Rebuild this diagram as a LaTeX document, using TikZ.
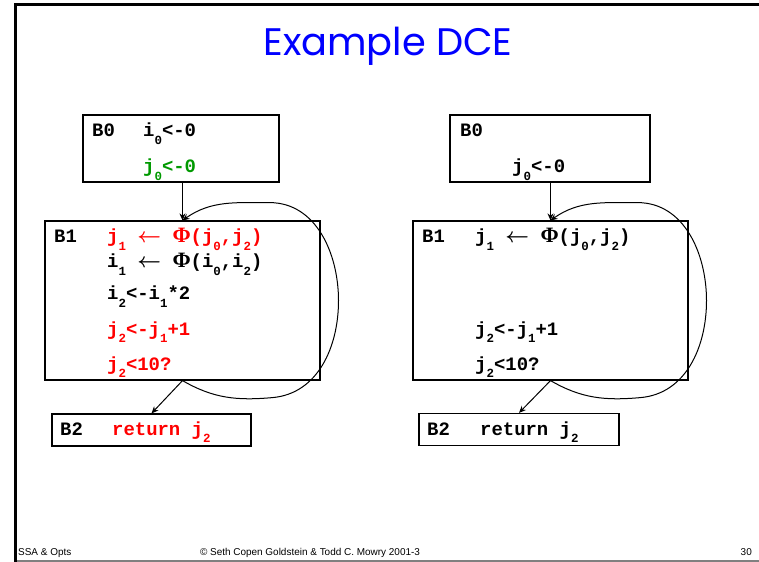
\documentclass[tikz,border=0pt]{standalone}
\usepackage{fontspec}
\usetikzlibrary{arrows.meta,calc}
\setmainfont{Liberation Sans}
\newfontfamily\codefont{Liberation Mono}[BoldFont={Liberation Mono Bold}]
\newfontfamily\phifont{Liberation Serif}
\newfontfamily\titlefont{Poppins}
% code text helpers
\newcommand\idx[1]{\raisebox{-0.38em}{\fontsize{12.5}{12.5}\selectfont #1}}
\newcommand\getsarrow{{\fontsize{20}{20}\selectfont\boldmath$\leftarrow$}}
\newcommand\phisym{{\phifont\bfseries\fontsize{22}{22}\selectfont Φ}}
\definecolor{codered}{RGB}{255,0,0}
\definecolor{codegreen}{RGB}{0,153,0}
\definecolor{titleblue}{RGB}{0,0,255}
\begin{document}
\begin{tikzpicture}[x=1bp,y=-1bp,
  blk/.style={draw=black,line width=1.2bp,inner sep=0pt},
  code/.style={anchor=base west,inner sep=0pt,font=\codefont\bfseries\fontsize{19}{22}\selectfont},
  flow/.style={line width=1bp,-{Stealth[length=7bp,width=6bp]}},
  foot/.style={inner sep=0pt,anchor=base,font=\fontsize{10}{11}\selectfont}]
\useasboundingbox (0,0) rectangle (759,562);
% slide frame
\fill[black] (13.5,3.5) rectangle (759,6.5);
\fill[black] (13.5,3.5) rectangle (16.5,562);
\fill[gray] (16.5,559.5) rectangle (759,562);
% title
\node[inner sep=0pt,text=titleblue,font=\titlefont\fontsize{38.5}{42}\selectfont] (title) at (388,46) {Example DCE};

% ---------- left: before DCE ----------
\node[blk,minimum width=196bp,minimum height=67bp] (B0L) at (181,148.5) {};
\node[blk,minimum width=275bp,minimum height=159bp] (B1L) at (182.5,300.5) {};
\node[blk,minimum width=199bp,minimum height=32bp] (B2L) at (151.5,430) {};

\node[code] (l0a) at (92,137) {B0};
\node[code] (l0b) at (143,137) {i\idx{0}<-0};
\node[code,text=codegreen] (l0c) at (143,173) {j\idx{0}<-0};

\node[code] (l1a) at (54,243) {B1};
\node[code,text=codered] (l1b) at (107,243) {j\idx{1} \getsarrow{} \phisym(j\idx{0},j\idx{2})};
\node[code] (l1c) at (107,268) {i\idx{1} \getsarrow{} \phisym(i\idx{0},i\idx{2})};
\node[code] (l1d) at (107,300) {i\idx{2}<-i\idx{1}*2};
\node[code,text=codered] (l1e) at (107,335) {j\idx{2}<-j\idx{1}+1};
\node[code,text=codered] (l1f) at (107,370) {j\idx{2}<10?};

\node[code] (l2a) at (60,435) {B2};
\node[code,text=codered] (l2b) at (112,435) {return j\idx{2}};

\draw[flow] (B1L.north |- B0L.south) -- (B1L.north);
\draw[flow] (B1L.south) -- (B2L.north);
\draw[flow] (B1L.south) to[out=-30,in=185] ($(B1L.south)+(90,17)$)
  to[out=5,in=-90] ($(B1L.south)+(156,-80)$)
  to[out=90,in=0] ($(B1L.south)+(87,-178)$)
  to[out=180,in=35] (B1L.north);

% ---------- right: after DCE ----------
\node[blk,minimum width=200bp,minimum height=67bp] (B0R) at (550,148.5) {};
\node[blk,minimum width=275bp,minimum height=159bp] (B1R) at (550.5,300.5) {};
\node[blk,minimum width=200bp,minimum height=32bp] (B2R) at (519,429.5) {};

\node[code] (r0a) at (460,137) {B0};
\node[code] (r0c) at (512,173) {j\idx{0}<-0};

\node[code] (r1a) at (422,243) {B1};
\node[code] (r1b) at (475,243) {j\idx{1} \getsarrow{} \phisym(j\idx{0},j\idx{2})};
\node[code] (r1e) at (475,335) {j\idx{2}<-j\idx{1}+1};
\node[code] (r1f) at (475,370) {j\idx{2}<10?};

\node[code] (r2a) at (427,435) {B2};
\node[code] (r2b) at (480,435) {return j\idx{2}};

\draw[flow] (B1R.north |- B0R.south) -- (B1R.north);
\draw[flow] (B1R.south) -- (B2R.north);
\draw[flow] (B1R.south) to[out=-30,in=185] ($(B1R.south)+(90,17)$)
  to[out=5,in=-90] ($(B1R.south)+(156,-80)$)
  to[out=90,in=0] ($(B1R.south)+(87,-178)$)
  to[out=180,in=35] (B1R.north);

% footer
\node[foot,anchor=base west] (f1) at (18,555) {SSA \& Opts};
\node[foot] (f2) at (310,555) {© Seth Copen Goldstein \& Todd C. Mowry 2001-3};
\node[foot,anchor=base east] (f3) at (752,555) {30};
\end{tikzpicture}
\end{document}
